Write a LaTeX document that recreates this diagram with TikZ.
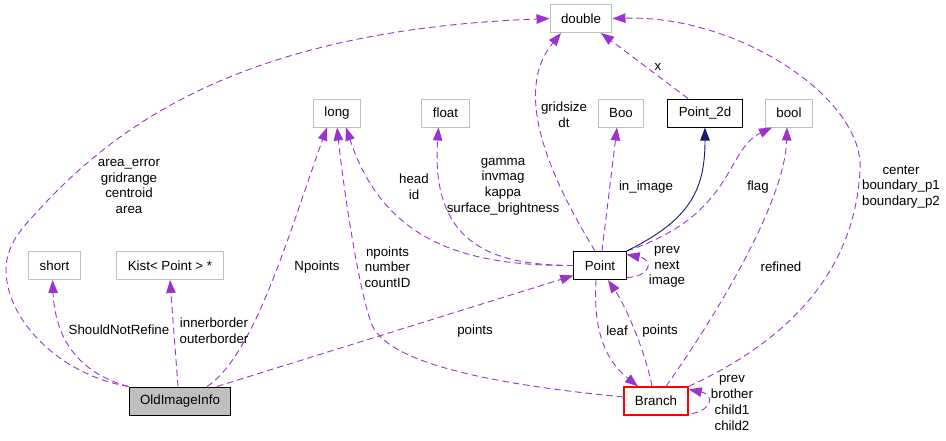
\documentclass[tikz,border=0pt]{standalone}
\usepackage{fontspec}
\setmainfont{Liberation Sans}
\usepackage{tikz}
\usetikzlibrary{arrows.meta}
\definecolor{edgepurple}{RGB}{154,50,205}
\definecolor{boxgray}{RGB}{191,191,191}
\definecolor{inhnavy}{RGB}{25,25,112}
\definecolor{branchred}{RGB}{255,0,0}

\begin{document}
\begin{tikzpicture}[
  x=1pt, y=-1pt,
  tnode/.style={draw=boxgray, line width=1pt, minimum height=28pt, inner xsep=11pt, inner ysep=0pt, font=\fontsize{13.3}{15.7}\selectfont},
  cnode/.style={tnode, draw=black},
  rnode/.style={tnode, draw=branchred, line width=1.3pt},
  lbl/.style={font=\fontsize{13.3}{15.7}\selectfont, align=center, inner sep=0pt},
  uses/.style={edgepurple, line width=0.9pt, dash pattern=on 6.5pt off 4pt, -{Triangle[length=13pt,width=9.5pt]}},
  inh/.style={inhnavy, line width=0.9pt, -{Triangle[length=13pt,width=9.5pt]}},
]
\useasboundingbox (0,0) rectangle (946,440);

% ─── Type boxes ───
% Row 1
\node[tnode] (dbl) at (581,18.5) {double};
% Row 2
\node[tnode] (lng) at (337,113) {long};
\node[tnode] (flt) at (445.5,113) {float};
\node[tnode] (boo) at (621,113) {Boo};
\node[cnode] (ptwod) at (705,113) {Point\_2d};
\node[tnode] (bol) at (789,113) {bool};
% Row 3
\node[tnode] (shrt) at (54.5,265.5) {short};
\node[tnode] (kist) at (170,265.5) {Kist< Point > *};
\node[cnode] (pnt) at (600,265.5) {Point};
% Row 4
\node[cnode, fill=boxgray] (old) at (180,401) {OldImageInfo};
\node[rnode] (br) at (656,401) {Branch};

% ─── OldImageInfo members ───
\draw[uses] (old.north west) .. controls (60,375) and (6,320) .. (6,270) .. controls (6,245) and (22,228) .. (36,213) .. controls (120,120) and (250,30) .. (dbl.west);
\draw[uses] (old.north west) .. controls (75,372) and (55,335) .. ([xshift=-2pt]shrt.south);
\draw[uses] ([xshift=-2pt]old.north) -- (kist.south);
\draw[uses] ([xshift=27pt]old.north) .. controls (255,355) and (290,230) .. ([xshift=-10pt]lng.south);
\draw[uses] ([xshift=37pt]old.north) -- ([yshift=-10pt]pnt.west);

% ─── Point members ───
\draw[uses] (pnt.west) .. controls (470,266) and (385,245) .. ([xshift=9pt]lng.south);
\draw[uses] (pnt.west) .. controls (500,265) and (430,250) .. ([xshift=-7pt]flt.south);
\draw[uses] ([xshift=-5pt]pnt.north) .. controls (555,185) and (510,95) .. ([xshift=-20pt]dbl.south);
\draw[uses] ([xshift=2pt]pnt.north) -- ([xshift=-4pt]boo.south);
\draw[uses] (pnt.north east) .. controls (735,215) and (725,150) .. ([xshift=-17pt]bol.south);
\draw[uses] ([yshift=-12pt]pnt.east) .. controls (650,277) and (655,260) .. ([yshift=11pt]pnt.east);
\draw[uses] ([xshift=-4pt]pnt.south) .. controls (593,330) and (605,360) .. ([xshift=-18pt]br.north);
\draw[inh] (pnt.north east) .. controls (690,220) and (705,190) .. (ptwod.south);

% ─── Point_2d members ───
\draw[uses] ([xshift=-17pt]ptwod.north) -- ([xshift=20pt]dbl.south);

% ─── Branch members ───
\draw[uses] ([yshift=4pt]br.west) .. controls (500,385) and (390,365) .. (372,325) .. controls (360,295) and (345,200) .. (lng.south);
\draw[uses] ([xshift=-4pt]br.north) .. controls (645,350) and (625,305) .. ([xshift=8pt]pnt.south);
\draw[uses] ([xshift=10pt]br.north) .. controls (720,310) and (785,200) .. ([xshift=-2pt]bol.south);
\draw[uses] (br.north east) .. controls (790,340) and (855,270) .. (860,170) .. controls (865,100) and (740,15) .. (dbl.east);
\draw[uses] ([xshift=3pt,yshift=2pt]br.south east) .. controls (712,410) and (715,395) .. ([yshift=-3pt]br.north east);

% ─── Edge labels ───
\node[lbl] (laerr) at (129,186.5) {area\_error\\gridrange\\centroid\\area};
\node[lbl] (lsnr) at (119,330) {ShouldNotRefine};
\node[lbl] (lborder) at (214,331) {innerborder\\outerborder};
\node[lbl] (lnpts) at (317,267) {Npoints};
\node[lbl] (lcount) at (387.5,267) {npoints\\number\\countID};
\node[lbl] (lpts) at (475,331) {points};
\node[lbl] (lhead) at (414,187) {head\\id};
\node[lbl] (lgamma) at (503,186.5) {gamma\\invmag\\kappa\\surface\_brightness};
\node[lbl] (lgrid) at (564,115) {gridsize\\dt};
\node[lbl] (lx) at (658,67) {x};
\node[lbl] (limg) at (646,187) {in\_image};
\node[lbl] (lflag) at (758,187) {flag};
\node[lbl] (lcenter) at (901,187) {center\\boundary\_p1\\boundary\_p2};
\node[lbl] (lpnn) at (667,267) {prev\\next\\image};
\node[lbl] (lleaf) at (617,331) {leaf};
\node[lbl] (lbpts) at (660,331) {points};
\node[lbl] (lrefined) at (781,267) {refined};
\node[lbl] (lkids) at (732,403) {prev\\brother\\child1\\child2};

\end{tikzpicture}
\end{document}
